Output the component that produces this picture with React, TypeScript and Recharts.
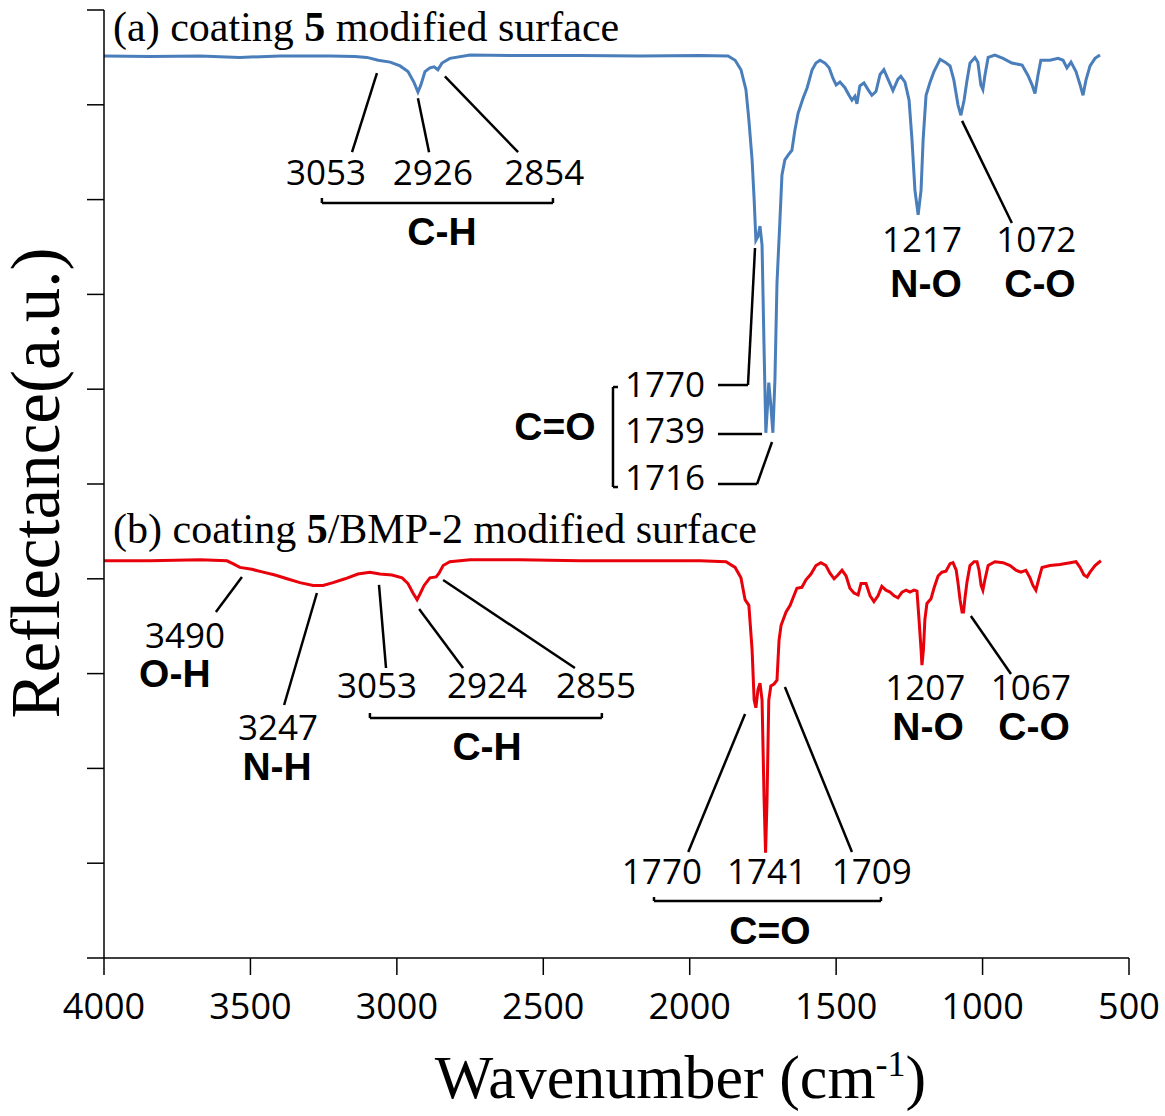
import React from 'react';
import { LineChart, Line, XAxis, YAxis, ReferenceLine, ReferenceDot } from 'recharts';

// ---------- axis ticks ----------
const xTicks = [4000, 3500, 3000, 2500, 2000, 1500, 1000, 500];
const yTicks = [0, 1, 2, 3, 4, 5, 6, 7, 8, 9, 10];

// ---------- (a) coating 5 modified surface ----------
const blueWavenumbers = [4000,3843,3672,3536,3399,3228,3143,3102,3064,3023,2989,2962,2942,2928,2918,2904,2887,2873,2860,2846,2819,2750,2580,2375,2170,1965,1869,1845,1825,1808,1798,1787,1780,1774,1767,1760,1753,1746,1740,1733,1730,1723,1716,1709,1702,1692,1685,1675,1664,1651,1641,1630,1613,1599,1582,1569,1555,1538,1524,1511,1500,1487,1470,1456,1446,1436,1429,1419,1405,1391,1378,1364,1350,1337,1323,1306,1289,1279,1265,1251,1241,1231,1220,1210,1203,1193,1179,1166,1145,1128,1111,1098,1084,1074,1063,1053,1043,1026,1016,1006,999,992,981,958,930,900,865,845,831,821,811,801,770,742,725,712,698,681,667,657,647,633,616,599];
const blueReflectance = [9.515,9.51,9.515,9.50,9.515,9.515,9.51,9.50,9.47,9.45,9.41,9.35,9.24,9.135,9.21,9.35,9.39,9.40,9.37,9.44,9.49,9.525,9.52,9.52,9.515,9.52,9.515,9.47,9.37,9.16,8.84,8.42,8.00,7.57,7.61,7.72,7.52,6.41,5.54,5.89,6.07,5.83,5.54,6.10,7.12,7.78,8.26,8.42,8.47,8.52,8.73,8.91,9.07,9.18,9.37,9.44,9.47,9.44,9.39,9.28,9.21,9.24,9.18,9.10,9.05,9.09,9.01,9.20,9.23,9.16,9.10,9.14,9.32,9.37,9.27,9.15,9.27,9.30,9.24,9.05,8.63,8.10,7.84,8.10,8.63,9.10,9.24,9.35,9.48,9.45,9.41,9.26,9.00,8.89,9.05,9.26,9.44,9.50,9.45,9.21,9.16,9.31,9.50,9.525,9.49,9.44,9.42,9.31,9.21,9.12,9.31,9.47,9.47,9.49,9.47,9.39,9.45,9.35,9.21,9.10,9.26,9.41,9.49,9.525];

// ---------- (b) coating 5/BMP-2 modified surface ----------
const redWavenumbers = [4000,3843,3672,3580,3560,3536,3495,3457,3416,3375,3331,3286,3252,3218,3177,3133,3092,3058,3017,2982,2962,2945,2931,2921,2907,2887,2866,2856,2842,2819,2750,2580,2375,2170,1965,1876,1845,1825,1811,1798,1787,1780,1774,1767,1760,1753,1746,1741,1736,1730,1723,1712,1702,1695,1688,1671,1657,1647,1634,1617,1603,1586,1569,1552,1535,1521,1507,1494,1480,1466,1453,1439,1425,1415,1398,1384,1371,1357,1344,1330,1316,1302,1289,1275,1261,1248,1234,1224,1217,1210,1207,1202,1197,1190,1176,1166,1152,1139,1125,1111,1101,1090,1084,1077,1070,1065,1060,1053,1043,1029,1019,1012,1005,999,992,981,958,930,906,886,869,852,838,828,818,807,797,770,736,701,681,667,654,643,633,616,596];
const redReflectance = [4.19,4.19,4.20,4.19,4.16,4.12,4.10,4.07,4.04,4.00,3.96,3.93,3.93,3.96,4.00,4.05,4.07,4.05,4.04,4.01,3.95,3.85,3.78,3.84,3.93,4.01,4.02,4.06,4.14,4.18,4.20,4.20,4.19,4.19,4.19,4.18,4.12,4.01,3.78,3.72,3.25,2.72,2.64,2.83,2.90,2.72,1.67,1.11,1.67,2.72,2.87,2.89,2.93,3.35,3.51,3.65,3.72,3.80,3.90,3.91,3.99,4.05,4.14,4.17,4.14,4.06,4.00,4.04,4.09,4.03,3.90,3.85,3.83,3.95,3.95,3.82,3.76,3.82,3.92,3.88,3.86,3.82,3.80,3.86,3.88,3.86,3.88,3.87,3.57,3.25,3.09,3.25,3.57,3.74,3.79,3.90,4.03,4.07,4.08,4.16,4.17,4.09,3.96,3.78,3.65,3.65,3.80,3.97,4.14,4.18,4.18,4.09,3.93,3.88,3.99,4.14,4.18,4.17,4.14,4.09,4.07,4.09,4.01,3.93,3.88,4.01,4.12,4.14,4.15,4.17,4.18,4.12,4.04,4.02,4.07,4.14,4.19];

// ---------- annotations (data coordinates: wavenumber, reflectance) ----------
// leader lines and brackets: [x1, y1, x2, y2]
const annotationSegments: [number, number, number, number][] = [
  // (a)
  [3068, 9.335, 3153, 8.502],
  [2928, 9.07, 2890, 8.50],
  [2836, 9.30, 2586, 8.50],
  [3256, 7.964, 2467, 7.964], [3256, 7.964, 3256, 8.017], [2467, 7.964, 2467, 8.017],
  [2262, 6.023, 2262, 4.968], [2262, 6.023, 2245, 6.023], [2262, 4.968, 2245, 4.968],
  [1903.5, 6.044, 1801, 6.044], [1801, 6.044, 1777, 7.489],
  [1903.5, 5.527, 1753, 5.527],
  [1903.5, 5.0, 1770, 5.0], [1770, 5.0, 1719, 5.443],
  [1070, 8.83, 900, 7.753],
  // (b)
  [3529, 4.019, 3618, 3.650],
  [3273, 3.85, 3385, 2.669],
  [3061, 3.935, 3037, 3.059],
  [2924, 3.681, 2774, 3.059],
  [2842, 3.987, 2392, 3.059],
  [3092, 2.532, 2300, 2.532], [3092, 2.532, 3092, 2.584], [2300, 2.532, 2300, 2.584],
  [1040, 3.608, 903, 2.996],
  [1811, 2.574, 2005, 1.118],
  [1675, 2.859, 1446, 1.118],
  [2122, 0.601, 1347, 0.601], [2122, 0.601, 2122, 0.643], [1347, 0.601, 1347, 0.643],
];

const peakLabels = [
  { x: 3242, y: 8.154, text: '3053' },
  { x: 2877, y: 8.154, text: '2926' },
  { x: 2497, y: 8.154, text: '2854' },
  { x: 2084, y: 5.918, text: '1770' },
  { x: 2084, y: 5.432, text: '1739' },
  { x: 2084, y: 4.937, text: '1716' },
  { x: 1207, y: 7.447, text: '1217' },
  { x: 817, y: 7.447, text: '1072' },
  { x: 3723, y: 3.27, text: '3490' },
  { x: 3406, y: 2.3, text: '3247' },
  { x: 3068, y: 2.743, text: '3053' },
  { x: 2692, y: 2.743, text: '2924' },
  { x: 2320, y: 2.743, text: '2855' },
  { x: 1196, y: 2.722, text: '1207' },
  { x: 835, y: 2.722, text: '1067' },
  { x: 2095, y: 0.781, text: '1770' },
  { x: 1736, y: 0.781, text: '1741' },
  { x: 1378, y: 0.781, text: '1709' },
];

const bondLabels = [
  { x: 2846, y: 7.52, text: 'C-H' },
  { x: 2460, y: 5.464, text: 'C=O' },
  { x: 1193, y: 6.973, text: 'N-O' },
  { x: 804, y: 6.973, text: 'C-O' },
  { x: 3758, y: 2.859, text: 'O-H' },
  { x: 3409, y: 1.878, text: 'N-H' },
  { x: 2692, y: 2.089, text: 'C-H' },
  { x: 1186, y: 2.3, text: 'N-O' },
  { x: 824, y: 2.3, text: 'C-O' },
  { x: 1726, y: 0.15, text: 'C=O' },
];

const titles = [
  { x: 3969, y: 9.673, pre: '(a) coating ', bold: '5', post: ' modified surface' },
  { x: 3969, y: 4.378, pre: '(b) coating ', bold: '5', post: '/BMP-2 modified surface' },
];

const blueData = blueWavenumbers.map((wn, i) => ({ wn, r: blueReflectance[i] }));
const redData = redWavenumbers.map((wn, i) => ({ wn, r: redReflectance[i] }));

const SERIF = '"Liberation Serif", "Times New Roman", serif';
const NUM = '"Open Sans", sans-serif';
const BOLD = '"Liberation Sans", Arial, sans-serif';

const XTick = (props: any) => (
  <text x={props.x} y={props.y} dy={42} textAnchor="middle" fontFamily={NUM} fontSize={36} fill="#000">
    {props.payload.value}
  </text>
);

const EmptyTick = () => <g />;

const XLabel = (props: any) => {
  const vb = props.viewBox || { x: 104, y: 958, width: 1025, height: 60 };
  return (
    <text x={vb.x + vb.width / 2 + 64} y={vb.y + 140} textAnchor="middle" fontFamily={SERIF} fontSize={62} fill="#000">
      Wavenumber (cm<tspan dy={-22} fontSize={36}>-1</tspan><tspan dy={22} fontSize={62}>)</tspan>
    </text>
  );
};

const YLabel = (props: any) => {
  const vb = props.viewBox || { x: 54, y: 10, width: 50, height: 948 };
  const cx = vb.x + 5;
  const cy = vb.y + vb.height / 2 - 1;
  return (
    <text x={cx} y={cy} transform={`rotate(-90, ${cx}, ${cy})`} textAnchor="middle" fontFamily={SERIF} fontSize={69} fill="#000">
      Reflectance(a.u.)
    </text>
  );
};

export default function App() {
  return (
    <div style={{ position: 'absolute', left: 0, top: 0, width: 1165, height: 1116, background: '#fff' }}>
      <LineChart width={1165} height={1116} margin={{ top: 10, right: 36, left: 54, bottom: 98 }}>
        <XAxis
          dataKey="wn"
          type="number"
          domain={[500, 4000]}
          ticks={xTicks}
          reversed
          allowDuplicatedCategory={false}
          height={60}
          tickSize={17}
          tickMargin={2}
          tick={XTick}
          axisLine={{ stroke: '#000', strokeWidth: 1.5 }}
          tickLine={{ stroke: '#000', strokeWidth: 1.5 }}
          label={{ content: XLabel }}
        />
        <YAxis
          type="number"
          domain={[0, 10]}
          ticks={yTicks}
          width={50}
          tickSize={17}
          tick={EmptyTick}
          axisLine={{ stroke: '#000', strokeWidth: 1.5 }}
          tickLine={{ stroke: '#000', strokeWidth: 1.5 }}
          label={{ content: YLabel }}
        />
        <Line data={blueData} dataKey="r" type="linear" stroke="#4A7EBB" strokeWidth={3} dot={false} isAnimationActive={false} />
        <Line data={redData} dataKey="r" type="linear" stroke="#E8000B" strokeWidth={3} dot={false} isAnimationActive={false} />
        {annotationSegments.map((s, i) => (
          <ReferenceLine
            key={`seg-${i}`}
            segment={[{ x: s[0], y: s[1] }, { x: s[2], y: s[3] }]}
            stroke="#000"
            strokeWidth={2.5}
            ifOverflow="visible"
          />
        ))}
        {peakLabels.map((l, i) => (
          <ReferenceDot
            key={`pk-${i}`}
            x={l.x}
            y={l.y}
            r={0}
            ifOverflow="visible"
            shape={(p: any) => (
              <text x={p.cx} y={p.cy} textAnchor="middle" fontFamily={NUM} fontSize={35} fill="#000">{l.text}</text>
            )}
          />
        ))}
        {bondLabels.map((l, i) => (
          <ReferenceDot
            key={`bd-${i}`}
            x={l.x}
            y={l.y}
            r={0}
            ifOverflow="visible"
            shape={(p: any) => (
              <text x={p.cx} y={p.cy} textAnchor="middle" fontFamily={BOLD} fontWeight="bold" fontSize={39} fill="#000">{l.text}</text>
            )}
          />
        ))}
        {titles.map((t, i) => (
          <ReferenceDot
            key={`tt-${i}`}
            x={t.x}
            y={t.y}
            r={0}
            ifOverflow="visible"
            shape={(p: any) => (
              <text x={p.cx} y={p.cy} textAnchor="start" fontFamily={SERIF} fontSize={42} fill="#000">
                {t.pre}<tspan fontWeight="bold">{t.bold}</tspan>{t.post}
              </text>
            )}
          />
        ))}
      </LineChart>
    </div>
  );
}
